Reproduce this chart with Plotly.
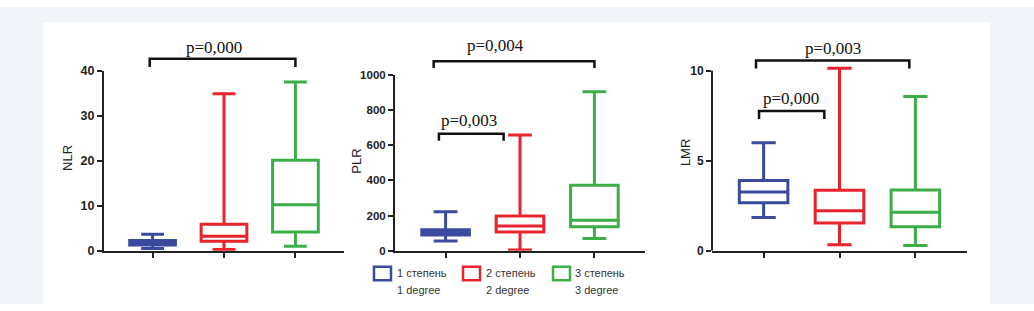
import plotly.graph_objects as go

W, H = 1034, 311

groups = ["1 степень", "2 степень", "3 степень"]
groups_en = ["1 degree", "2 degree", "3 degree"]
colors = ["#3a4b9f", "#e8232c", "#3cae48"]

# NLR
nlr_low = [0.5, 0.3, 1.0]
nlr_q1 = [1.3, 2.1, 4.2]
nlr_med = [1.8, 3.25, 10.25]
nlr_q3 = [2.3, 5.9, 20.1]
nlr_high = [3.7, 34.9, 37.5]

# PLR
plr_low = [56, 5, 70]
plr_q1 = [90, 106, 136]
plr_med = [105, 141, 173]
plr_q3 = [120, 198, 372]
plr_high = [222, 657, 902]

# LMR
lmr_low = [1.85, 0.34, 0.3]
lmr_q1 = [2.67, 1.55, 1.33]
lmr_med = [3.27, 2.23, 2.14]
lmr_q3 = [3.9, 3.36, 3.37]
lmr_high = [6.0, 10.14, 8.57]

titles = ["NLR", "PLR", "LMR"]
yticks = [[0, 10, 20, 30, 40], [0, 200, 400, 600, 800, 1000], [0, 5, 10]]

panels = [
    (nlr_low, nlr_q1, nlr_med, nlr_q3, nlr_high),
    (plr_low, plr_q1, plr_med, plr_q3, plr_high),
    (lmr_low, lmr_q1, lmr_med, lmr_q3, lmr_high),
]

# significance labels: (panel, text)
sig_texts = [(0, "p=0,000"), (1, "p=0,004"), (1, "p=0,003"), (2, "p=0,003"), (2, "p=0,000")]


def px(x):
    return x / W


def py(y):
    return (H - y) / H


# layout geometry (pixels)
x_dom = [(104, 344), (395, 645), (712, 967)]
y_bottom = 255.3
y_tops = [66.7, 70.7, 61.0]
y_ranges = [[0, 40], [0, 1000], [0, 10.3]]
tick_sizes = [12.5, 11.5, 12]
title_x = [68, 357, 685]
title_y = [158, 162, 153]

fig = go.Figure()

for p, (low, q1, med, q3, high) in enumerate(panels):
    xa = "x" if p == 0 else f"x{p+1}"
    ya = "y" if p == 0 else f"y{p+1}"
    for i in range(3):
        fill = colors[i] if (i == 0 and p < 2) else "white"
        fig.add_trace(go.Box(
            x=[i], q1=[q1[i]], median=[med[i]], q3=[q3[i]],
            lowerfence=[low[i]], upperfence=[high[i]],
            name=groups[i], boxpoints=False,
            line=dict(color=colors[i], width=3), fillcolor=fill,
            width=0.64, whiskerwidth=0.5,
            xaxis=xa, yaxis=ya, showlegend=False, hoverinfo="skip",
        ))

layout = dict(
    width=W, height=H,
    margin=dict(l=0, r=0, t=0, b=0),
    paper_bgcolor="white",
    plot_bgcolor="rgba(0,0,0,0)",
    showlegend=False,
)

for p in range(3):
    sx = "" if p == 0 else str(p + 1)
    layout["xaxis" + sx] = dict(
        domain=[px(x_dom[p][0]), px(x_dom[p][1])],
        anchor="y" + sx,
        range=[-0.68, 2.68],
        showline=True, linewidth=2, linecolor="#222",
        ticks="outside", ticklen=5, tickwidth=2, tickcolor="#222",
        tickvals=[0, 1, 2], showticklabels=False,
        showgrid=False, zeroline=False, fixedrange=True,
    )
    layout["yaxis" + sx] = dict(
        domain=[py(y_bottom), py(y_tops[p])],
        anchor="x" + sx,
        range=y_ranges[p],
        showline=(p < 2), linewidth=2, linecolor="#222",
        ticks="outside", ticklen=5, tickwidth=2, tickcolor="#222",
        tickvals=yticks[p],
        tickfont=dict(family="Liberation Sans, Arial", size=tick_sizes[p], color="#222", weight="bold"),
        showgrid=False, zeroline=False, fixedrange=True,
    )

fig.update_layout(**layout)

shapes = []
# light page border around the white card
border = "#f1f4f8"
for (x0, x1, y0, y1) in [(0, 43, 0, H), (990, W, 0, H), (0, W, 0, 16)]:
    shapes.append(dict(type="rect", xref="paper", yref="paper", x0=px(x0), x1=px(x1), y0=py(y1), y1=py(y0),
                       fillcolor=border, line=dict(width=0), layer="below"))
# y axis line of LMR panel, from 0 to 10
shapes.append(dict(type="line", xref="x3 domain", yref="y3", x0=0, x1=0, y0=0, y1=10,
                   line=dict(color="#222", width=2)))

# brackets: panel, x0, x1 (category units), y line (px), tick bottom (px), text x (cat units), text y (px)
brackets = [
    (0, -0.04, 2.0, 54.3, 62.7, 0.86, 42.7),
    (1, -0.16, 2.0, 56.7, 64.0, 0.67, 40.7),
    (1, -0.09, 0.78, 132.7, 140.0, 0.31, 119.3),
    (2, -0.10, 1.92, 56.0, 64.3, 0.92, 43.3),
    (2, -0.06, 0.80, 109.0, 117.3, 0.36, 96.0),
]
annotations = []
for (pn, x0, x1, yl, yb, tx, ty), (_, txt) in zip(brackets, sig_texts):
    xr = "x" if pn == 0 else f"x{pn+1}"
    shapes.append(dict(type="path", xref=xr, yref="paper",
                       path=f"M {x0},{py(yb)} L {x0},{py(yl)} L {x1},{py(yl)} L {x1},{py(yb)}",
                       line=dict(color="#111", width=2.5)))
    annotations.append(dict(x=tx, y=py(ty), xref=xr, yref="paper", text=txt, showarrow=False,
                            xanchor="center", yanchor="middle",
                            font=dict(family="Liberation Serif, Times New Roman", size=17, color="#111")))

# y titles
for p in range(3):
    annotations.append(dict(x=px(title_x[p]), y=py(title_y[p]), xref="paper", yref="paper",
                            text=titles[p], textangle=-90, showarrow=False,
                            xanchor="center", yanchor="middle",
                            font=dict(family="Liberation Sans, Arial", size=13, color="#222")))

# legend (manual)
leg_sq_x = [374, 463, 553]
leg_tx = [395, 484, 573]
for i in range(3):
    shapes.append(dict(type="rect", xref="paper", yref="paper",
                       x0=px(leg_sq_x[i]), x1=px(leg_sq_x[i] + 17), y0=py(286), y1=py(272),
                       line=dict(color=colors[i], width=2.5), fillcolor="white"))
    annotations.append(dict(x=px(leg_tx[i]), y=py(279), xref="paper", yref="paper", text=groups[i],
                            showarrow=False, xanchor="left", yanchor="middle",
                            font=dict(family="Liberation Sans, Arial", size=11, color="#333")))
    annotations.append(dict(x=px(leg_tx[i]), y=py(296), xref="paper", yref="paper", text=groups_en[i],
                            showarrow=False, xanchor="left", yanchor="middle",
                            font=dict(family="Liberation Sans, Arial", size=11, color="#333")))

fig.update_layout(shapes=shapes, annotations=annotations)
fig.write_html(
    "out.html",
    config={"displayModeBar": False},
    post_script="document.body.style.margin='0';document.body.style.padding='0';"
                "document.documentElement.style.overflow='hidden';",
)
